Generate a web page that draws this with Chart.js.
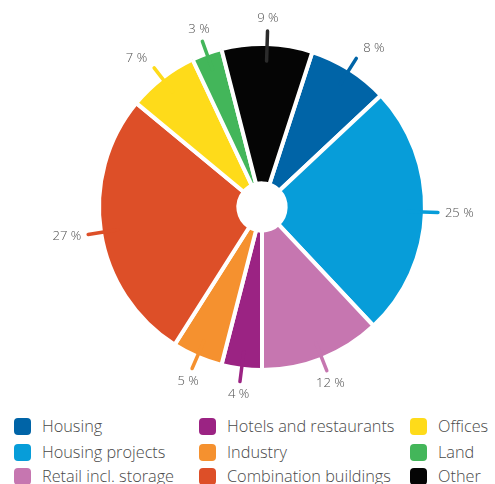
<!DOCTYPE html>
<html>
<head>
<meta charset="utf-8">
<script src="https://cdn.jsdelivr.net/npm/chart.js@4"></script>
<style>
  body { margin: 0; background: #fff; font-family: "Open Sans", Lato, sans-serif; }
  #wrap { position: relative; width: 495px; height: 484px; overflow: hidden; }
  #chartBox { position: absolute; left: 0; top: 0; width: 495px; height: 410px; }
  .legend-item { position: absolute; height: 20px; display: flex; align-items: center; font-size: 16.3px; font-weight: 300; color: #4a4a4a; white-space: nowrap; }
  .legend-item span.sw { display: inline-block; width: 17px; height: 17px; border-radius: 4px; margin-right: 11px; }
</style>
</head>
<body>
<div id="wrap">
  <div id="chartBox"><canvas id="pieChart"></canvas></div>
  <div id="legend"></div>
</div>
<script>
const labels = ['Housing', 'Housing projects', 'Retail incl. storage', 'Hotels and restaurants', 'Industry', 'Combination buildings', 'Offices', 'Land', 'Other'];
const values = [8, 25, 12, 4, 5, 27, 7, 3, 9];
const colors = ['#0064a7', '#079dd9', '#c676b0', '#9b2383', '#f5912f', '#dd4f28', '#fedb1a', '#43b65a', '#050505'];

// tick marks follow the slice colour, black one is lifted so it shows on its slice
const tickColors = colors.map(c => c === '#050505' ? '#2b2b2b' : c);

const outsideLabels = {
    id: 'outsideLabels',
    afterDatasetsDraw(chart) {
        const ctx = chart.ctx;
        const arcs = chart.getDatasetMeta(0).data;
        ctx.save();
        ctx.font = '300 13px "Open Sans", Lato, sans-serif';
        ctx.fillStyle = '#4f4f4f';
        ctx.lineCap = 'round';
        ctx.lineWidth = 3.5;
        arcs.forEach((arc, i) => {
            const p = arc.getProps(['x', 'y', 'startAngle', 'endAngle', 'outerRadius']);
            const mid = (p.startAngle + p.endAngle) / 2;
            const ux = Math.cos(mid), uy = Math.sin(mid);
            const r0 = p.outerRadius - 17, r1 = p.outerRadius + 13;
            const ex = p.x + ux * r1, ey = p.y + uy * r1;

            ctx.strokeStyle = tickColors[i];
            ctx.beginPath();
            ctx.moveTo(p.x + ux * r0, p.y + uy * r0);
            ctx.lineTo(ex, ey);
            ctx.stroke();

            const text = values[i] + ' %';
            if (Math.abs(ux) > 0.5) {
                ctx.textAlign = ux > 0 ? 'left' : 'right';
                ctx.textBaseline = 'middle';
                ctx.fillText(text, ex + Math.sign(ux) * 7, ey + uy * 12);
            } else {
                ctx.textAlign = 'center';
                ctx.textBaseline = uy > 0 ? 'top' : 'bottom';
                ctx.fillText(text, ex + ux * 10, ey + Math.sign(uy) * 6);
            }
        });
        ctx.restore();
    }
};

new Chart(document.getElementById('pieChart'), {
    type: 'doughnut',
    data: {
        labels: labels,
        datasets: [{
            data: values,
            backgroundColor: colors,
            borderColor: '#ffffff',
            borderWidth: 4,
            hoverOffset: 0
        }]
    },
    options: {
        responsive: true,
        maintainAspectRatio: false,
        animation: false,
        rotation: 18,
        cutout: '14.5%',
        layout: { padding: { top: 42, bottom: 38, left: 60, right: 31 } },
        plugins: {
            legend: { display: false },
            tooltip: { enabled: false }
        }
    },
    plugins: [outsideLabels]
});

// legend in three columns, filled top to bottom
const legendCols = [14, 199, 410];
const legendRows = [426, 452, 476];
const legend = document.getElementById('legend');
labels.forEach((name, i) => {
    const col = Math.floor(i / 3), row = i % 3;
    const item = document.createElement('div');
    item.className = 'legend-item';
    item.style.left = legendCols[col] + 'px';
    item.style.top = (legendRows[row] - 10) + 'px';
    item.innerHTML = `<span class="sw" style="background:${colors[i]}"></span>${name}`;
    legend.appendChild(item);
});
</script>
</body>
</html>
